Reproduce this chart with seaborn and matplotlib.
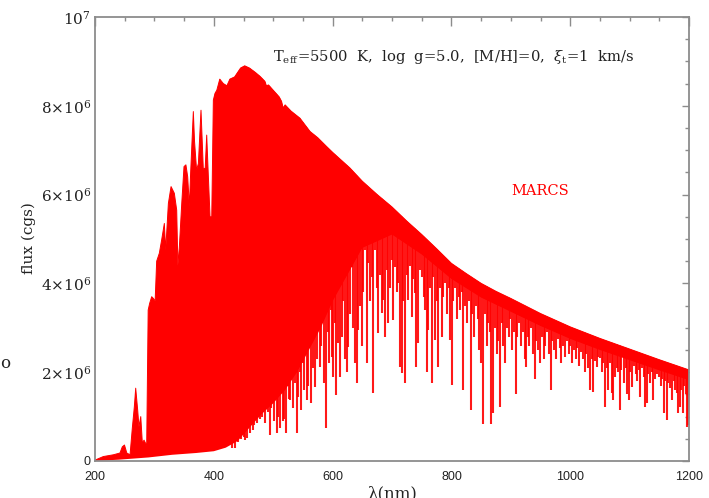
import numpy as np
import pandas as pd
import seaborn as sns
import matplotlib.pyplot as plt
from matplotlib.patches import Polygon
from matplotlib.ticker import MultipleLocator

sns.set_theme(style='white')
plt.rcParams['font.family'] = ['DejaVu Serif']
plt.rcParams['mathtext.fontset'] = 'dejavuserif'

# upper edge of the spectrum (lambda in nm, flux in 1e6 cgs)
top_wl = [200, 214, 231, 242, 246, 249.6, 253.5, 259, 262.8, 266.2, 268.5, 271.8, 274, 277,
          279.7, 282.5, 287, 289.5, 292, 295.4, 298.3, 301.2, 303.8, 308.3, 312.2, 316.7, 319,
          323.5, 328, 333.5, 337.5, 339.5, 342, 346, 349.8, 353, 356, 358.8, 361, 365.5, 367.5,
          371, 374, 378.4, 382.3, 385.5, 388, 390.5, 393.6, 396.5, 399.2, 402, 405, 410, 416,
          422, 427, 435, 445, 452, 460, 470, 478, 486, 488.5, 492, 500, 510, 514, 516.7, 520,
          530, 545, 562, 575, 590, 600, 629, 650, 675, 700, 725, 750, 775, 800, 825, 850, 875,
          900, 950, 1000, 1050, 1100, 1150, 1200]
top_flux = [0.02, 0.10, 0.14, 0.18, 0.32, 0.36, 0.18, 0.14, 0.74, 1.22, 1.64, 1.15, 0.77, 1.0,
            0.40, 0.47, 0.35, 3.40, 3.55, 3.70, 3.66, 3.60, 4.50, 4.68, 4.98, 5.35, 4.75,
            5.80, 6.18, 6.03, 5.65, 4.40, 4.83, 5.80, 6.63, 6.67, 6.40, 5.73, 6.50, 7.87, 7.20,
            6.55, 6.70, 7.90, 6.57, 6.60, 7.34, 6.50, 5.50, 5.50, 8.13, 8.28, 8.35, 8.60, 8.50,
            8.45, 8.60, 8.65, 8.85, 8.90, 8.85, 8.75, 8.66, 8.55, 8.45, 8.47, 8.35, 8.20, 8.10,
            7.95, 8.02, 7.88, 7.72, 7.42, 7.28, 7.08, 6.95, 6.60, 6.30, 6.00, 5.72, 5.40, 5.10,
            4.78, 4.45, 4.22, 4.00, 3.82, 3.66, 3.32, 3.02, 2.76, 2.52, 2.28, 2.05]

# lower edge of the solid part of the line forest
low_wl = [200, 240, 290, 330, 370, 400, 420, 440, 460, 480, 500, 520, 540, 560, 580, 600,
          625, 650, 700, 750, 800, 850, 900, 950, 1000, 1050, 1100, 1150, 1200]
low_flux = [0.0, 0.03, 0.08, 0.14, 0.18, 0.22, 0.30, 0.45, 0.75, 1.05, 1.30, 1.60, 2.00, 2.50,
            3.00, 3.60, 4.20, 4.80, 5.10, 4.65, 4.10, 3.68, 3.36, 3.04, 2.75, 2.50, 2.27, 2.04,
            1.82]

# absorption lines below the solid part: position and bottom of each line
line_wl = [402, 410.2, 418.9, 422.7, 427, 430.8, 435.7, 438.4, 440.5, 445, 448,
           450.5, 453, 455.4, 458, 460.5, 463, 465.5, 468, 470.5, 473, 475.5, 478, 480.6, 483,
           486.2, 488.5, 491, 494.6, 497, 499.5,
           502, 504.5, 506, 508.6, 511.4, 513.5, 516.7, 518.3, 521.5, 524, 526.5, 528.3, 531,
           533.5, 536, 539.5, 542, 544.5, 547, 549.5,
           552, 554.5, 556.4, 559, 561.5, 564, 566.5, 569, 570.4, 573, 575.5, 578.8, 581, 583.5,
           586, 589, 591.5, 594, 596.5, 598.5,
           601, 604, 606, 609.6, 612.5, 615, 618, 620.5, 623.7, 626.5, 629, 632, 634.5, 637,
           640.5, 643, 646, 649, 651.5, 654.5, 657,
           660, 662.5, 665.8, 667.5, 671.5, 674, 677, 680, 682.6, 685.3, 688, 691, 693.8, 696.5,
           699.5,
           702, 705, 707.5, 710.6, 713.5, 716, 718.5, 721.9, 724.5, 727.5, 730, 733, 735.5,
           738.7, 741, 744, 747, 750, 753, 755.6, 758, 761, 764, 766.8, 769.5, 772.4, 775.2, 778,
           781, 783.7, 786.5, 789, 792, 795, 797.6, 800.5,
           803, 806, 809, 812, 815, 818, 820, 823, 826, 829, 832.5, 835, 838, 841, 844, 847,
           849.8, 853.7, 856, 859, 862, 864, 866.7, 870.6, 873, 876, 879, 881.8, 884.5, 887, 890,
           893, 896, 899,
           902, 905, 908.8, 911, 914, 917, 920, 923, 925, 928, 931, 934, 937, 940.7, 943, 946,
           949, 952, 955, 958, 961, 964, 967, 970, 973, 976, 979, 982, 985, 988, 991, 994, 997,
           1000, 1003, 1006, 1009, 1012, 1015, 1018, 1021, 1024, 1027, 1030, 1033, 1036, 1039,
           1042, 1044.5, 1047, 1050, 1053, 1055.5, 1058.6, 1061, 1064, 1067, 1069.8, 1072.6,
           1075, 1078, 1080, 1083, 1086, 1090, 1093, 1095, 1098,
           1101, 1104, 1107, 1110, 1112, 1115, 1118, 1121, 1123.5, 1126, 1128.8, 1131.5, 1134.6,
           1137, 1140, 1143, 1146, 1149, 1152, 1154.5, 1157, 1160, 1162.4, 1165, 1168, 1171,
           1174, 1176.5, 1179, 1182, 1185, 1187, 1189, 1192, 1194, 1196, 1198]
line_flux = [0.29, 0.35, 0.32, 0.40, 0.38, 0.30, 0.29, 0.45, 0.42, 0.50, 0.60,
             0.55, 0.47, 0.52, 0.75, 0.62, 0.90, 0.70, 0.80, 1.00, 0.85, 1.10, 0.95, 1.00, 1.25,
             0.85, 1.30, 1.10, 0.58, 1.20, 1.40,
             0.90, 1.50, 0.63, 1.00, 0.74, 1.60, 0.90, 0.95, 0.63, 1.70, 1.40, 1.37, 1.90,
             1.20, 1.75, 0.63, 1.45, 2.00, 1.15, 2.20,
             1.60, 2.40, 1.37, 1.70, 2.60, 1.30, 2.10, 2.80, 1.67, 2.30, 3.00, 2.12, 2.60, 3.20,
             1.75, 0.74, 2.90, 2.20, 3.40, 2.35,
             1.90, 3.10, 1.49, 2.65, 1.90, 2.80, 3.60, 2.30, 2.01, 2.57, 3.30, 4.37, 3.00, 2.20,
             1.75, 2.95, 3.50, 2.60, 3.80, 4.75, 2.20,
             4.45, 3.60, 4.15, 1.54, 4.75, 3.90, 2.88, 4.20, 3.33, 3.63, 2.80, 4.30, 3.10, 3.90,
             4.53,
             3.18, 4.37, 3.80, 4.00, 2.12, 1.98, 3.60, 1.75, 4.20, 3.63, 4.40, 3.25, 4.10,
             3.78, 2.12, 2.65, 4.30, 4.15, 3.70, 3.40, 2.00, 2.95, 3.90, 1.75, 4.15, 2.72, 3.60,
             2.12, 3.90, 2.80, 3.70, 4.00, 3.30, 3.90, 2.73, 1.71,
             3.60, 3.90, 3.20, 3.70, 3.40, 3.80, 1.60, 3.50, 3.10, 3.60, 1.15, 3.30, 2.80, 3.50,
             3.20, 2.50, 2.20, 0.83, 3.30, 2.60, 3.10, 2.90, 0.83, 1.07, 3.00, 2.40, 2.70, 1.22,
             3.10, 2.60, 2.20, 3.00, 2.80, 3.20,
             2.50, 2.90, 1.51, 2.80, 3.10, 2.60, 2.90, 2.30, 2.12, 2.80, 2.60, 3.00, 2.40, 1.85,
             2.70, 2.50, 2.20, 2.80, 2.30, 2.60, 2.90, 2.40, 1.60, 2.70, 2.50, 2.30, 2.75, 2.55,
             2.20, 2.60, 2.35, 2.70, 2.40,
             2.60, 2.20, 2.50, 2.30, 2.55, 2.15, 2.45, 2.30, 2.00, 2.40, 2.10, 1.60, 2.30, 1.56,
             2.25, 2.12, 2.35, 2.32, 2.00, 2.20, 1.22, 2.10, 1.60, 2.20, 1.53, 1.37, 1.90, 2.10,
             2.00, 1.15, 2.05, 1.75, 2.10, 1.51, 1.37,
             2.00, 1.67, 2.15, 1.95, 1.80, 2.05, 1.45, 2.10, 1.90, 1.22, 1.30, 1.95, 1.75, 2.00,
             1.37, 1.85, 1.95, 1.90, 1.70, 1.85, 1.07, 1.80, 0.92, 1.75, 1.65, 1.37, 1.80, 1.60,
             1.53, 1.07, 1.22, 1.60, 1.07, 1.70, 1.50, 0.77, 0.81]

x_ticks = [200, 400, 600, 800, 1000, 1200]
y_ticks = [0, 2, 4, 6, 8, 10]
y_labels = ['0', r'$2{\times}10^{6}$', r'$4{\times}10^{6}$', r'$6{\times}10^{6}$',
            r'$8{\times}10^{6}$', r'$10^{7}$']

red = '#ff0000'
grey = '#8c8c8c'
ink = '#222222'
spec = pd.DataFrame({'wl': top_wl, 'flux': top_flux})

fig = plt.figure(figsize=(7.09, 4.98), dpi=100)
ax = fig.add_axes([0.134, 0.0743, 0.838, 0.8916])

# solid part between the two edges
ax.fill(np.r_[top_wl, low_wl[::-1]], np.r_[top_flux, low_flux[::-1]], color=red, lw=0)

# absorption lines, cut off at the upper edge
edge = Polygon(np.c_[np.r_[top_wl, top_wl[-1], top_wl[0]], np.r_[top_flux, 0, 0]],
               closed=True, transform=ax.transData, fc='none', ec='none')
ax.add_patch(edge)
lines = ax.vlines(line_wl, line_flux, 10, color=red, lw=1.5, alpha=0.9)
lines.set_clip_path(edge)

sns.lineplot(data=spec, x='wl', y='flux', color=red, lw=0.7, ax=ax)

ax.set_xlim(200, 1200)
ax.set_ylim(0, 10)
ax.set_xlabel('')
ax.set_ylabel('')
ax.set_xticks(x_ticks, labels=[str(v) for v in x_ticks], fontfamily='Liberation Sans', fontsize=9)
ax.set_yticks(y_ticks, labels=y_labels, fontsize=11)
ax.get_yticklabels()[0].set_fontfamily('Liberation Sans')
ax.get_yticklabels()[0].set_fontsize(9)
ax.xaxis.set_minor_locator(MultipleLocator(50))
ax.yaxis.set_minor_locator(MultipleLocator(0.5))
ax.tick_params(which='both', direction='in', top=True, right=True, color=grey, width=1,
               labelcolor=ink)
ax.tick_params(axis='x', which='major', length=6.5, pad=7)
ax.tick_params(axis='x', which='minor', length=3)
ax.tick_params(axis='y', which='major', length=5, pad=3)
ax.tick_params(axis='y', which='minor', length=3)
for s in ax.spines.values():
    s.set_color(grey)
    s.set_linewidth(1.3)

ax.text(500, 9.0, r'T$_{\rm eff}$=5500  K,  log  g=5.0,  [M/H]=0,  $\xi_{\rm t}$=1  km/s',
        fontsize=10.6, va='baseline', color=ink)
ax.text(901.5, 5.99, 'MARCS', color=red, fontsize=10.5, va='baseline')

fig.text(29 / 709, 1 - 238 / 498, 'flux (cgs)', rotation=90, ha='center', va='center',
         fontsize=11, color=ink)
fig.text(392 / 709, 1 - 485 / 498, 'λ(nm)', ha='center', va='top', fontsize=12, color=ink)
fig.text(0.0, 1 - 364 / 498, 'o', ha='left', va='center', fontsize=12, color=ink)

fig.savefig('out.png', dpi=100)
